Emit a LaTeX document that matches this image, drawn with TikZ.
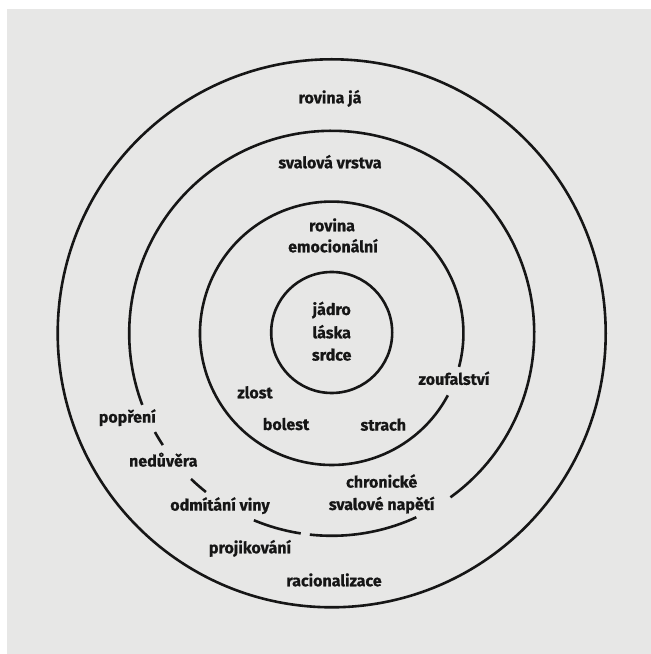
\documentclass[tikz,border=0pt]{standalone}
\usepackage{fontspec}
\setmainfont{Fira Sans}[BoldFeatures={FakeBold=0.6}]
\definecolor{paper}{RGB}{231,231,230}
\definecolor{ink}{RGB}{22,22,22}
\begin{document}
\begin{tikzpicture}[x=1pt,y=1pt,
  ring/.style={draw=ink,line width=2.6pt},
  lbl/.style={text=ink,font=\fontsize{16}{19}\selectfont\bfseries,inner sep=0pt,text height=1.5ex,text depth=0.25ex,align=center}]
\useasboundingbox (0,0) rectangle (651,654);
\fill[white] (0,0) rectangle (651,654);
\fill[paper] (7,0) rectangle (651,645);
\coordinate (C) at (331.7,320.7);
% outer circle
\draw[ring] (C) circle[radius=274];
% second ring (svalova vrstva)
\draw[ring] (C) ++(-54.1:202.5) arc[start angle=-54.1,end angle=200.7,radius=202.5];
\draw[ring] (C) ++(209.2:202.5) arc[start angle=209.2,end angle=213.5,radius=202.5];
\draw[ring] (C) ++(226:202.5) arc[start angle=226,end angle=231.6,radius=202.5];
\draw[ring] (C) ++(247.4:202.5) arc[start angle=247.4,end angle=261.2,radius=202.5];
\draw[ring] (C) ++(263.8:202.5) arc[start angle=263.8,end angle=294.7,radius=202.5];
% third ring (emocionalni)
\draw[ring] (C) ++(-14.8:131.7) arc[start angle=-14.8,end angle=331.9,radius=131.7];
% inner circle
\draw[ring] (331.7,321.5) circle[radius=60.5];
% labels
\node[lbl] (rj) at (330,554) {rovina já};
\node[lbl] (sv) at (330,489) {svalová vrstva};
\node[lbl] (re1) at (332,426) {rovina};
\node[lbl] (re2) at (333,405) {emocionální};
\node[lbl] (ja) at (331.7,342.3) {jádro};
\node[lbl] (la) at (331.7,319) {láska};
\node[lbl] (sr) at (331.7,296.7) {srdce};
\node[lbl] (zo) at (454,272.5) {zoufalství};
\node[lbl] (st) at (383.3,226.7) {strach};
\node[lbl] (zl) at (255,259) {zlost};
\node[lbl] (bo) at (286,227.3) {bolest};
\node[lbl] (ch1) at (381.7,169.7) {chronické};
\node[lbl] (ch2) at (381.7,147.3) {svalové napětí};
\node[lbl] (po) at (127.3,234.7) {popření};
\node[lbl] (ne) at (163.3,190.7) {nedůvěra};
\node[lbl] (od) at (220,146.7) {odmítání viny};
\node[lbl] (pr) at (250,104) {projikování};
\node[lbl] (ra) at (334,71) {racionalizace};
\end{tikzpicture}
\end{document}
